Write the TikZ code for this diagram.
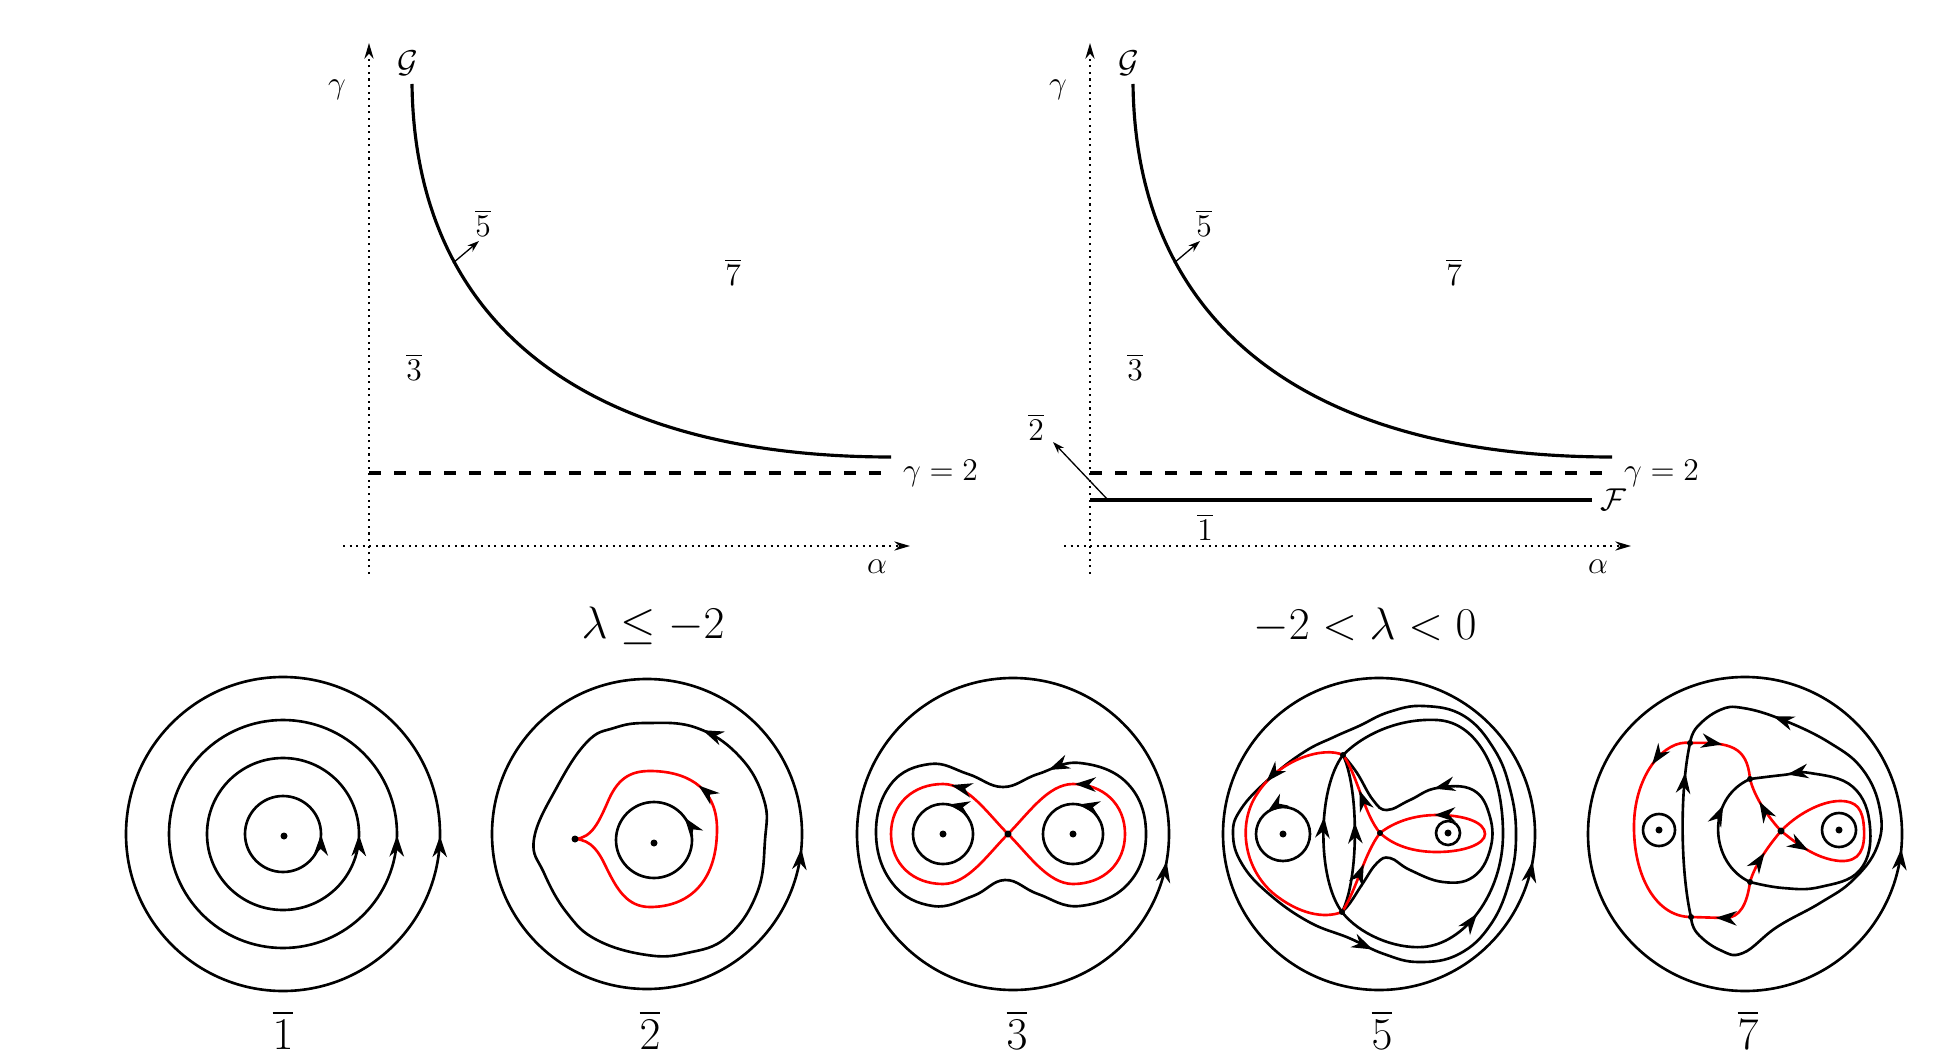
\documentclass[tikz,border=0pt]{standalone}
\usepackage{amsmath,amssymb}
\usetikzlibrary{arrows.meta,decorations.markings}

\begin{document}
\begin{tikzpicture}[x=0.38pt,y=0.38pt,
  orbit/.style={line width=1pt},
  sepx/.style={line width=1pt,red},
  bound/.style={line width=1.2pt},
  axisline/.style={line width=0.8pt,dash pattern=on 0.8pt off 1.7pt,-{Stealth[length=6pt,width=3.5pt]}},
  flow/.style={postaction={decorate,decoration={markings,mark=at position #1 with {\arrow[black]{Stealth[length=8pt,width=5.5pt,inset=2.5pt]}}}}},
  lab/.style={font=\fontsize{11.5}{14}\selectfont},
  big/.style={font=\fontsize{17.5}{20}\selectfont},
  huge/.style={font=\fontsize{18.5}{22}\selectfont,inner sep=0pt}]
\useasboundingbox (0,0) rectangle (1942,1055);
\begin{scope}[lab]
\draw[axisline] (369,481) -- (369,1012);
\draw[axisline] (343,509) -- (910,509);
\node (gaml) at (337,965) {$\gamma$};
\node (alpl) at (877,488) {$\alpha$};
\draw[bound] (412,971) .. controls (415,720) and (600,598) .. (891,598);
\node (Gl) at (408,992) {$\mathcal{G}$};
\draw[bound,dash pattern=on 4.5pt off 5pt] (369,582) -- (891,582);
\node[anchor=west,inner sep=1pt] (twol) at (900,582) {$\gamma=2$};
\draw[line width=0.5pt,-{Stealth[length=4.5pt,width=3pt]}] (453,792) -- (479,814);
\node (fivel) at (483,832) {$\overline{5}$};
\node (sevenl) at (733,783) {$\overline{7}$};
\node (threel) at (414,688) {$\overline{3}$};
\node[big] (laml) at (653,429) {$\lambda\leq-2$};
\end{scope}
\begin{scope}[lab,shift={(721,0)}]
\draw[axisline] (369,481) -- (369,1012);
\draw[axisline] (343,509) -- (910,509);
\node (gamr) at (337,965) {$\gamma$};
\node (alpr) at (877,488) {$\alpha$};
\draw[bound] (412,971) .. controls (415,720) and (600,598) .. (891,598);
\node (Gr) at (408,992) {$\mathcal{G}$};
\draw[bound,dash pattern=on 4.5pt off 5pt] (369,582) -- (891,582);
\node[anchor=west,inner sep=1pt] (twor) at (900,582) {$\gamma=2$};
\draw[bound] (369,555) -- (871,555);
\node (Fr) at (892,555) {$\mathcal{F}$};
\draw[line width=0.5pt,-{Stealth[length=4.5pt,width=3pt]}] (453,792) -- (479,814);
\draw[line width=0.5pt,-{Stealth[length=4.5pt,width=3pt]}] (387,555) -- (332,613);
\node (fiver) at (483,832) {$\overline{5}$};
\node (sevenr) at (733,783) {$\overline{7}$};
\node (threer) at (414,688) {$\overline{3}$};
\node (twobr) at (315,628) {$\overline{2}$};
\node (oner) at (484,528) {$\overline{1}$};
\node[big] (lamr) at (644,429) {$-2<\lambda<0$};
\end{scope}
\begin{scope}[shift={(283,221)}]
\draw[orbit,flow=0.998] (0,0) circle (157);
\draw[orbit,flow=0.998] (0,0) circle (114);
\draw[orbit,flow=0.998] (0,0) circle (76);
\draw[orbit,flow=0.998] (0,0) circle (38);
\fill (1,-2) circle (3.5);
\node[huge] (p1) at (0,-196) {$\overline{1}$};
\end{scope}
\begin{scope}[shift={(647,221)}]
\draw[orbit,flow=0.985] (0,0) circle (155);
\draw[orbit,flow=0.635] plot[smooth cycle,tension=0.7] coordinates {(-113,-5) (-103,-39) (-80,-79) (-50,-106) (0,-121) (40,-119) (80,-103) (110,-59) (118,-6) (117,34) (93,77) (50,106) (0,111) (-33,106) (-60,92) (-90,47)};
\draw[orbit,flow=0.1] (7,-6) circle (38);
\draw[sepx,flow=0.63] (-72,-5) .. controls (-55,-6) and (-48,-18) .. (-40,-35) .. controls (-30,-55) and (-20,-73) .. (3,-73) .. controls (40,-73) and (70,-50) .. (70,5) .. controls (70,50) and (35,63) .. (3,63) .. controls (-15,63) and (-28,57) .. (-38,35) .. controls (-48,12) and (-55,-4) .. (-72,-5);
\fill (7,-9) circle (3.5);
\fill (-72,-5) circle (3.5);
\node[huge] (p2) at (3,-196) {$\overline{2}$};
\end{scope}
\begin{scope}[shift={(1013,221)}]
\draw[orbit,flow=0.972] (0,0) circle (156);
\draw[orbit,flow=0.62] plot[smooth cycle,tension=0.7] coordinates {(-137,0) (-120,-50) (-80,-72) (-40,-62) (-8,-46) (25,-60) (67,-72) (115,-50) (133,0) (115,50) (67,71) (25,60) (-10,47) (-45,60) (-83,70) (-122,50)};
\draw[orbit,flow=0.22] (-70,0) circle (30);
\draw[orbit,flow=0.22] (60,0) circle (30);
\draw[sepx,flow=0.23] (-5,0) .. controls (-25,20) and (-45,50) .. (-70,50) .. controls (-100,50) and (-122,30) .. (-122,0) .. controls (-122,-30) and (-100,-50) .. (-70,-50) .. controls (-45,-50) and (-25,-20) .. (-5,0);
\draw[sepx,flow=0.74] (-5,0) .. controls (15,-20) and (35,-50) .. (60,-50) .. controls (90,-50) and (112,-30) .. (112,0) .. controls (112,30) and (90,50) .. (60,50) .. controls (35,50) and (15,20) .. (-5,0);
\fill (-70,0) circle (3.5);
\fill (60,0) circle (3.5);
\fill (-5,0) circle (3.5);
\node[huge] (p3) at (4,-196) {$\overline{3}$};
\end{scope}
\begin{scope}[shift={(1379,221)}]
\draw[orbit,flow=0.972] (0,0) circle (156);
\draw[orbit,flow=0.19] plot[smooth cycle,tension=0.7] coordinates {(-146,0) (-137,-30) (-110,-60) (-70,-88) (-30,-104) (5,-120) (40,-128) (80,-120) (112,-90) (131,-45) (137,0) (131,45) (115,85) (85,118) (45,128) (10,122) (-20,108) (-45,97) (-75,82) (-110,55) (-138,25)};
\draw[orbit,flow=0.32] (-37,-78) .. controls (-20,-100) and (15,-115) .. (44,-113) .. controls (85,-110) and (124,-60) .. (124,0) .. controls (124,60) and (100,112) .. (58,114) .. controls (20,116) and (-15,100) .. (-36,79);
\draw[orbit,flow=0.71] plot[smooth,tension=0.7] coordinates {(-37,-78) (-29,-69) (-16,-49) (-2,-29) (11,-24) (31,-36) (64,-48) (94,-43) (111,-16) (111,17) (94,44) (58,46) (31,34) (8,24) (-6,34) (-22,61) (-36,79)};
\draw[orbit,flow=0.6] (-37,-78) .. controls (-62,-45) and (-62,45) .. (-36,79);
\draw[orbit,flow=0.57] (-37,-78) .. controls (-20,-45) and (-20,45) .. (-36,79);
\draw[orbit,flow=0.35] (-96,0) circle (27);
\draw[orbit] (69,1) circle (12);
\draw[sepx,flow=0.3] (-36,79) .. controls (-55,88) and (-100,75) .. (-122,40) .. controls (-142,10) and (-135,-35) .. (-105,-60) .. controls (-80,-80) and (-55,-85) .. (-37,-78);
\draw[sepx,flow=0.55] (1,1) .. controls (-15,20) and (-22,60) .. (-36,79);
\draw[sepx,flow=0.6] (-37,-78) .. controls (-22,-55) and (-15,-20) .. (1,1);
\draw[sepx,flow=0.75] (1,1) .. controls (15,-12) and (35,-18) .. (58,-18) .. controls (85,-18) and (106,-10) .. (106,0) .. controls (106,12) and (85,19) .. (58,19) .. controls (35,19) and (15,12) .. (1,1);
\fill (-96,0) circle (3.5);
\fill (69,1) circle (3.5);
\fill (-36,79) circle (3);
\fill (-37,-78) circle (3);
\fill (1,1) circle (3);
\node[huge] (p5) at (3,-196) {$\overline{5}$};
\end{scope}
\begin{scope}[shift={(1745,221)}]
\draw[orbit,flow=0.985] (0,0) circle (157);
\draw[orbit,flow=0.81] plot[smooth,tension=0.7] coordinates {(-54,-83) (-48,-99) (-25,-116) (-2,-119) (32,-93) (75,-69) (108,-46) (132,-13) (135,24) (118,64) (85,91) (38,114) (-2,126) (-25,124) (-48,107) (-55,91)};
\draw[orbit,flow=0.83] (-54,-83) .. controls (-64,-40) and (-66,40) .. (-55,91);
\draw[orbit,flow=0.7] (5,-48) .. controls (-35,-30) and (-40,35) .. (5,55);
\draw[orbit,flow=0.88] plot[smooth,tension=0.7] coordinates {(5,-48) (38,-54) (75,-53) (115,-36) (125,7) (108,47) (65,61) (38,59) (5,55)};
\draw[orbit] (-86,4) circle (16);
\draw[orbit] (94,4) circle (17);
\draw[sepx,flow=0.2] (-55,91) .. controls (-80,95) and (-110,60) .. (-111,10) .. controls (-112,-40) and (-90,-83) .. (-54,-83);
\draw[sepx,flow=0.4] (-55,91) .. controls (-15,92) and (2,88) .. (5,55);
\draw[sepx,flow=0.6] (36,3) .. controls (25,15) and (10,35) .. (5,55);
\draw[sepx,flow=0.55] (5,-48) .. controls (10,-30) and (25,-10) .. (36,3);
\draw[sepx,flow=0.7] (5,-48) .. controls (2,-70) and (-5,-84) .. (-20,-84) -- (-54,-83);
\draw[sepx,flow=0.15] (36,3) .. controls (50,-8) and (70,-25) .. (95,-27) .. controls (115,-28) and (120,-15) .. (119,5) .. controls (118,25) and (112,33) .. (95,33) .. controls (75,33) and (50,18) .. (36,3);
\fill (-86,4) circle (3.5);
\fill (94,4) circle (3.5);
\fill (36,3) circle (3.5);
\fill (-55,91) circle (3);
\fill (-54,-83) circle (3);
\fill (5,55) circle (3);
\fill (5,-48) circle (3);
\node[huge] (p7) at (3,-196) {$\overline{7}$};
\end{scope}
\end{tikzpicture}
\end{document}
